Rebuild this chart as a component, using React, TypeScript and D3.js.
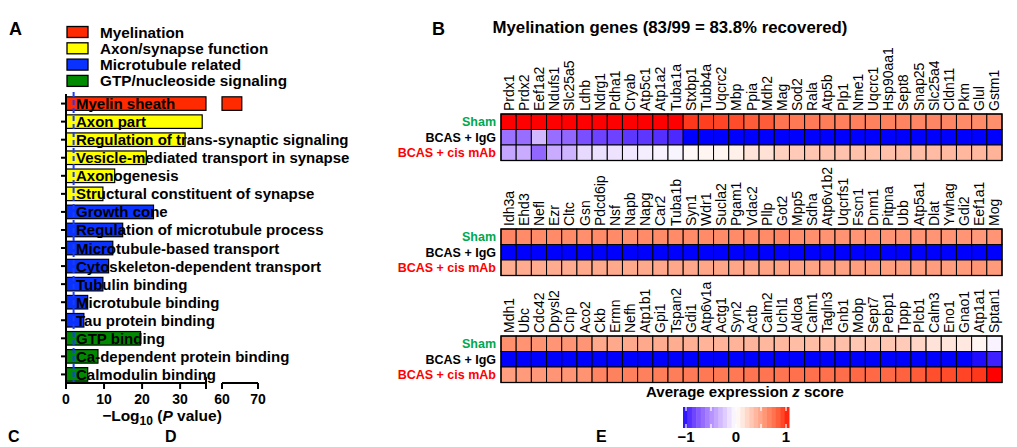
import * as d3 from 'd3';

// ---- Panel A data ----
const terms = [
  'Myelin sheath',
  'Axon part',
  'Regulation of trans-synaptic signaling',
  'Vesicle-mediated transport in synapse',
  'Axonogenesis',
  'Structural constituent of synapse',
  'Growth cone',
  'Regulation of microtubule process',
  'Microtubule-based transport',
  'Cytoskeleton-dependent transport',
  'Tubulin binding',
  'Microtubule binding',
  'Tau protein binding',
  'GTP binding',
  'Ca-dependent protein binding',
  'Calmodulin binding',
];
const logP = [65.5, 35.8, 31.3, 21.1, 12.8, 9.7, 23.0, 14.9, 12.3, 11.2, 9.7, 5.7, 4.7, 19.6, 8.4, 5.7];
const termGroup = [0, 1, 1, 1, 1, 1, 2, 2, 2, 2, 2, 2, 2, 3, 3, 3];
const legendNames = ['Myelination', 'Axon/synapse function', 'Microtubule related', 'GTP/nucleoside signaling'];
const legendColors = ['#ff2a00', '#ffff00', '#0a32ff', '#008a00'];
const xTicksLow = [0, 10, 20, 30];
const xTicksHigh = [60, 70];
const cutoff = 2;

// ---- Panel B data ----
const rowNames = ['Sham', 'BCAS + IgG', 'BCAS + cis mAb'];
const rowColors = ['#00a84f', '#000000', '#ff0000'];

const genes1 = ['Prdx1', 'Prdx2', 'Eef1a2', 'Ndufs1', 'Slc25a5', 'Ldhb', 'Ndrg1', 'Pdha1', 'Cryab', 'Atp5c1', 'Atp1a2', 'Tuba1a', 'Stxbp1', 'Tubb4a', 'Uqcrc2', 'Mbp', 'Ppia', 'Mdh2', 'Mag', 'Sod2', 'Rala', 'Atp5b', 'Plp1', 'Nme1', 'Uqcrc1', 'Hsp90aa1', 'Sept8', 'Snap25', 'Slc25a4', 'Cldn11', 'Pkm', 'Glul', 'Gstm1'];
const sham1 = [1, 1, 1, 1, 1, 1, 1, 1, 1, 1, 1, 1, 0.92, 0.9, 0.88, 0.86, 0.8, 0.8, 0.7, 0.68, 0.67, 0.66, 0.65, 0.65, 0.64, 0.64, 0.63, 0.62, 0.62, 0.62, 0.6, 0.6, 0.58];
const igg1 = [-0.6, -0.62, -0.3, -0.62, -0.65, -0.75, -0.8, -0.8, -0.85, -0.85, -0.88, -0.9, -1, -1, -1, -1, -1, -1, -1, -1, -1, -1, -1, -1, -1, -1, -1, -1, -1, -1, -1, -1, -1];
const cis1 = [-0.38, -0.35, -0.65, -0.35, -0.32, -0.16, -0.13, -0.12, -0.1, -0.07, -0.05, -0.04, 0.03, 0.05, 0.05, 0.08, 0.15, 0.16, 0.25, 0.28, 0.3, 0.32, 0.32, 0.33, 0.33, 0.34, 0.35, 0.35, 0.36, 0.37, 0.38, 0.38, 0.4];

const genes2 = ['Idh3a', 'Ehd3', 'Nefl', 'Ezr', 'Cltc', 'Gsn', 'Pdcd6ip', 'Nsf', 'Napb', 'Napg', 'Car2', 'Tuba1b', 'Syn1', 'Wdr1', 'Sucla2', 'Pgam1', 'Vdac2', 'Pllp', 'Got2', 'Mpp5', 'Sdha', 'Atp6v1b2', 'Uqcrfs1', 'Fscn1', 'Dnm1', 'Pitpna', 'Ubb', 'Atp5a1', 'Dlat', 'Ywhag', 'Gdi2', 'Eef1a1', 'Mog'];
const sham2 = [0.62, 0.6, 0.6, 0.6, 0.6, 0.58, 0.6, 0.6, 0.58, 0.6, 0.6, 0.6, 0.6, 0.6, 0.6, 0.6, 0.6, 0.6, 0.62, 0.58, 0.58, 0.56, 0.56, 0.55, 0.56, 0.55, 0.55, 0.55, 0.55, 0.55, 0.55, 0.53, 0.55];
const igg2 = [-1, -1, -1, -1, -1, -1, -1, -1, -1, -1, -1, -1, -1, -1, -1, -1, -1, -1, -1, -1, -1, -1, -1, -1, -1, -1, -1, -1, -1, -1, -1, -1, -1];
const cis2 = [0.43, 0.44, 0.44, 0.44, 0.44, 0.45, 0.45, 0.45, 0.45, 0.45, 0.46, 0.46, 0.46, 0.47, 0.47, 0.47, 0.47, 0.48, 0.48, 0.48, 0.48, 0.49, 0.49, 0.5, 0.5, 0.5, 0.5, 0.5, 0.51, 0.51, 0.52, 0.55, 0.52];

const genes3 = ['Mdh1', 'Ubc', 'Cdc42', 'Dpysl2', 'Cnp', 'Aco2', 'Ckb', 'Ermn', 'Nefh', 'Atp1b1', 'Gpi1', 'Tspan2', 'Gdi1', 'Atp6v1a', 'Actg1', 'Syn2', 'Actb', 'Calm2', 'Uchl1', 'Aldoa', 'Calm1', 'Tagln3', 'Gnb1', 'Mobp', 'Sept7', 'Pebp1', 'Tppp', 'Plcb1', 'Calm3', 'Eno1', 'Gnao1', 'Atp1a1', 'Sptan1'];
const sham3 = [0.58, 0.56, 0.56, 0.55, 0.55, 0.55, 0.45, 0.45, 0.45, 0.45, 0.44, 0.43, 0.42, 0.4, 0.4, 0.4, 0.39, 0.38, 0.38, 0.35, 0.35, 0.35, 0.34, 0.3, 0.3, 0.3, 0.28, 0.22, 0.15, 0.14, 0.12, 0.05, -0.05];
const igg3 = [-1, -1, -1, -1, -1, -1, -1, -1, -1, -1, -1, -1, -1, -1, -1, -1, -1, -1, -1, -1, -1, -1, -1, -1, -1, -1, -1, -1, -1, -1, -1, -0.98, -0.93];
const cis3 = [0.5, 0.52, 0.53, 0.55, 0.55, 0.56, 0.63, 0.64, 0.65, 0.65, 0.66, 0.66, 0.67, 0.68, 0.68, 0.68, 0.7, 0.7, 0.7, 0.72, 0.72, 0.72, 0.73, 0.75, 0.75, 0.75, 0.78, 0.8, 0.85, 0.86, 0.88, 0.92, 1];

const heatmaps = [
  { genes: genes1, rows: [sham1, igg1, cis1], top: 114 },
  { genes: genes2, rows: [sham2, igg2, cis2], top: 229 },
  { genes: genes3, rows: [sham3, igg3, cis3], top: 336 },
];
const colorTicks = [-1, -0.5, 0, 0.5, 1];
const colorTickLabels = ['\u22121', '0', '1'];

const FONT = "'Liberation Sans', Arial, Helvetica, sans-serif";

export default function App() {
  // panel A scales (broken axis)
  const xLow = d3.scaleLinear().domain([0, 36.8]).range([66, 206]);
  const xHigh = d3.scaleLinear().domain([60, 70]).range([222, 258]);
  const y = d3.scaleBand<string>().domain(terms).range([95, 383]).paddingInner(0.25).paddingOuter(0.1);

  // panel B scales
  const x = d3.scaleBand<number>().domain(d3.range(33)).range([501, 1002]);
  const rowH = 15.5;
  const color = d3
    .scaleLinear<string>()
    .domain([-1, 0, 1])
    .range(['#0000ff', '#ffffff', '#ff0000'])
    .interpolate(d3.interpolateLab)
    .clamp(true);
  const cbX = d3.scaleLinear().domain([-1, 1]).range([686, 786]);
  const cbSteps = d3.range(24);
  const cbStepW = (789 - 683) / cbSteps.length;

  const axisY = 383;

  return (
    <svg
      width={1017}
      height={447}
      style={{ position: 'absolute', left: 0, top: 0, background: '#fff' }}
      fontFamily={FONT}
    >
      <rect width={1017} height={447} fill="#fff" />
      {/* panel letters */}
      <g fontWeight="bold" fontSize={18}>
        <text x={9} y={35}>A</text>
        <text x={432} y={35}>B</text>
      </g>
      <g fontWeight="bold" fontSize={16}>
        <text x={8} y={442}>C</text>
        <text x={165} y={442}>D</text>
        <text x={596} y={442}>E</text>
      </g>

      {/* ---- Panel A legend ---- */}
      <g fontWeight="bold" fontSize={15.3}>
        {legendNames.map((n, i) => (
          <g key={n} transform={`translate(0, ${32 + i * 16.3})`}>
            <rect x={67} y={-5.5} width={21} height={11} fill={legendColors[i]} stroke="#000" strokeWidth={1.3} />
            <text x={100} y={5.5}>{n}</text>
          </g>
        ))}
      </g>

      {/* ---- Panel A bars ---- */}
      <g>
        {terms.map((t, i) => {
          const v = logP[i];
          const yy = y(t)!;
          const h = y.bandwidth();
          const fill = legendColors[termGroup[i]];
          return (
            <g key={t}>
              <rect x={xLow(0)} y={yy} width={xLow(Math.min(v, 36.8)) - xLow(0)} height={h} fill={fill} stroke="#000" strokeWidth={1.2} />
              {v > 60 && (
                <rect x={xHigh(60)} y={yy} width={xHigh(v) - xHigh(60)} height={h} fill={fill} stroke="#000" strokeWidth={1.2} />
              )}
            </g>
          );
        })}
        {/* cutoff line */}
        <line x1={xLow(cutoff)} x2={xLow(cutoff)} y1={92} y2={axisY} stroke="#1a3cff" strokeWidth={2} strokeDasharray="5,3" />
        <g fontWeight="bold" fontSize={15}>
          {terms.map((t) => (
            <text key={t} x={76} y={y(t)! + y.bandwidth() / 2 + 5.5}>{t}</text>
          ))}
        </g>
        {/* left axis */}
        <line x1={66} x2={66} y1={94} y2={axisY} stroke="#000" strokeWidth={2} />
        {terms.map((t) => (
          <line key={t} x1={61} x2={66} y1={y(t)! + y.bandwidth() / 2} y2={y(t)! + y.bandwidth() / 2} stroke="#000" strokeWidth={2} />
        ))}
        {/* bottom axis */}
        <line x1={65} x2={xLow(36.8)} y1={axisY} y2={axisY} stroke="#000" strokeWidth={2} />
        <line x1={xHigh(60)} x2={xHigh(70)} y1={axisY} y2={axisY} stroke="#000" strokeWidth={2} />
        <line x1={xLow(36.8)} x2={xLow(36.8)} y1={377} y2={389} stroke="#000" strokeWidth={2} />
        <g fontWeight="bold" fontSize={14} textAnchor="middle">
          {xTicksLow.map((v) => (
            <g key={v}>
              <line x1={xLow(v)} x2={xLow(v)} y1={axisY} y2={axisY + 6} stroke="#000" strokeWidth={2} />
              <text x={xLow(v)} y={404}>{v}</text>
            </g>
          ))}
          {xTicksHigh.map((v) => (
            <g key={v}>
              <line x1={xHigh(v)} x2={xHigh(v)} y1={axisY} y2={axisY + 6} stroke="#000" strokeWidth={2} />
              <text x={xHigh(v)} y={404}>{v}</text>
            </g>
          ))}
        </g>
        <text x={162} y={421} fontWeight="bold" fontSize={15.5} textAnchor="middle">
          {'\u2212Log'}
          <tspan fontSize={12} dy={4}>10</tspan>
          <tspan dy={-4}>{' ('}</tspan>
          <tspan fontStyle="italic">P</tspan>
          {' value)'}
        </text>
      </g>

      {/* ---- Panel B ---- */}
      <text x={670} y={33} fontWeight="bold" fontSize={16.8} textAnchor="middle">
        Myelination genes (83/99 = 83.8% recovered)
      </text>
      {heatmaps.map((hm, k) => (
        <g key={k}>
          {hm.genes.map((g, j) => (
            <text
              key={g}
              transform={`translate(${x(j)! + x.bandwidth() / 2 + 5}, ${hm.top - 3}) rotate(-90)`}
              fontSize={14}
            >
              {g}
            </text>
          ))}
          {hm.rows.map((vals, r) => (
            <g key={r}>
              <text
                x={496}
                y={hm.top + r * rowH + rowH / 2 + 4.5}
                textAnchor="end"
                fontWeight="bold"
                fontSize={12.5}
                fill={rowColors[r]}
              >
                {rowNames[r]}
              </text>
              {vals.map((v, j) => (
                <rect
                  key={j}
                  x={x(j)}
                  y={hm.top + r * rowH}
                  width={x.bandwidth()}
                  height={rowH}
                  fill={color(v)}
                  stroke="#000"
                  strokeWidth={1}
                />
              ))}
            </g>
          ))}
          <rect x={501} y={hm.top} width={501} height={rowH * 3} fill="none" stroke="#000" strokeWidth={1.3} />
        </g>
      ))}

      {/* colour bar */}
      <text x={745} y={397} fontWeight="bold" fontSize={15} textAnchor="middle">
        Average expression <tspan fontStyle="italic">z</tspan> score
      </text>
      {cbSteps.map((i) => (
        <rect
          key={i}
          x={683 + i * cbStepW}
          y={407}
          width={cbStepW + 0.5}
          height={21}
          fill={color(-1 + (2 * (i + 0.5)) / cbSteps.length)}
        />
      ))}
      {colorTicks.map((t) => (
        <g key={t}>
          <line x1={cbX(t)} x2={cbX(t)} y1={407} y2={411} stroke="#fff" strokeWidth={1.2} />
          <line x1={cbX(t)} x2={cbX(t)} y1={424} y2={428} stroke="#fff" strokeWidth={1.2} />
        </g>
      ))}
      <g fontWeight="bold" fontSize={15} textAnchor="middle">
        {[-1, 0, 1].map((t, i) => (
          <text key={t} x={cbX(t)} y={442}>{colorTickLabels[i]}</text>
        ))}
      </g>
    </svg>
  );
}
